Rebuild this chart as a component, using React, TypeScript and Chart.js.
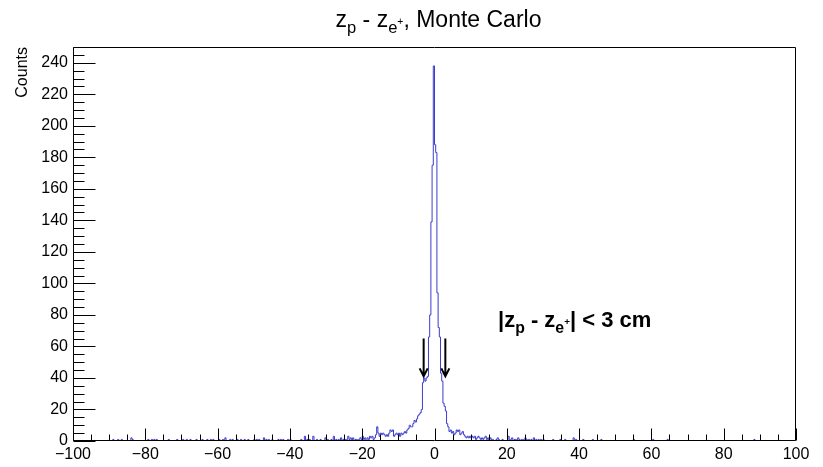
import React, { useEffect, useRef } from 'react';
import { Chart, registerables } from 'chart.js';

Chart.register(...registerables);

const FONT = '"Liberation Sans", Arial, Helvetica, sans-serif';

// ---------- data ----------
const X_MIN = -100;
const X_MAX = 100;
const BIN_WIDTH = 1 / 3; // 600 bins over [-100, 100]
const Y_MIN = 0;
const Y_MAX = 250;

const xTickValues = [-100, -80, -60, -40, -20, 0, 20, 40, 60, 80, 100];
const yTickValues = [0, 20, 40, 60, 80, 100, 120, 140, 160, 180, 200, 220, 240];
const xMinorStep = 5;
const yMinorStep = 5;

// bins from -100 to -20 cm
const countsLeftTail = [
  0,0,0,0,0,0,0,0,0,0, 0,0,0,0,0,0,0,0,0,0, 0,0,0,0,0,0,0,0,0,0,
  0,0,0,1,0,0,0,1,0,0, 1,0,0,0,0,0,0,0,2,1, 0,0,0,0,0,0,0,0,0,0,
  0,0,1,0,0,1,0,1,0,1, 0,0,0,0,0,0,0,0,0,1, 0,0,0,0,0,0,1,0,0,0,
  0,1,0,0,1,0,0,1,0,0, 0,0,1,0,0,0,0,1,0,0, 0,1,0,0,1,0,1,0,0,0,
  0,1,0,0,1,0,2,0,0,0, 1,0,1,0,0,0,1,0,0,1, 0,0,1,0,0,1,0,0,0,0,
  1,0,1,0,1,0,0,0,2,0, 1,0,1,0,0,1,0,0,0,0, 1,0,1,0,1,0,0,0,1,0,
  1,0,0,0,0,0,0,0,0,1, 0,0,3,0,1,0,1,0,0,3, 0,0,1,0,0,1,0,0,0,2,
  0,1,0,0,1,0,3,0,1,0, 1,0,2,0,1,0,1,1,3,1, 2,0,2,0,1,1,0,1,2,1,
];

// bins from -20 to +20 cm
const countsCore = [
  3,1,2,0,2,1,3,2,3,1, 2,4,9,5,3,5,4,5,4,3, 4,3,5,7,6,7,3,4,5,4,
  5,3,5,4,5,6,5,7,8,10, 9,9,11,13,12,14,16,17,18,20, 37,40,38,40,41,66,80,139,175,238,
  188,183,94,72,66,43,38,24,22,19, 11,9,6,7,5,6,4,5,7,6, 7,4,5,6,4,3,2,3,2,3,
  2,3,2,3,1,2,3,2,1,2, 1,2,3,1,2,0,2,1,1,0, 0,1,2,1,0,0,1,0,0,0,
];

// bins from +20 to +100 cm
const countsRightTail = [
  0,3,1,1,2,0,1,1,0,2, 1,0,1,1,0,2,1,0,1,0, 1,0,2,0,1,0,1,0,1,0,
  1,0,0,0,0,0,0,0,1,0, 0,0,0,0,1,0,0,0,1,0, 0,0,0,0,0,2,0,1,0,0,
  0,0,0,1,0,0,0,0,0,0, 0,1,0,0,0,0,0,0,1,0, 0,0,0,0,0,0,0,0,0,0,
  0,0,0,0,0,0,0,0,0,0, 0,0,0,0,0,1,0,0,0,0, 0,0,0,0,0,0,0,0,0,0,
  0,1,0,0,0,0,0,0,0,0, 0,0,0,1,0,0,0,0,0,0, 0,0,0,0,0,0,0,0,0,0,
  0,0,0,0,0,0,0,0,0,0, 0,0,0,0,0,0,0,0,0,0, 0,0,0,0,0,0,0,0,0,0,
  0,0,0,0,0,0,0,0,0,0, 0,0,0,0,0,0,0,0,0,0, 0,0,0,0,0,1,0,0,0,0,
  0,0,0,0,0,0,0,0,0,0, 0,0,0,0,0,0,0,0,0,0, 0,0,0,0,0,0,0,0,0,0,
];

const yAxisTitle = 'Counts';
// rich text: [text, kind]  kind: n = normal, s = subscript, u = superscript on subscript
const titleParts: [string, string][] = [
  ['z', 'n'], ['p', 's'], [' - z', 'n'], ['e', 's'], ['+', 'u'], [', Monte Carlo', 'n'],
];
const cutParts: [string, string][] = [
  ['|z', 'n'], ['p', 's'], [' - z', 'n'], ['e', 's'], ['+', 'u'], ['| < 3 cm', 'n'],
];
const cutArrowX = [-3, 3];
const cutArrowFrom = 65;
const cutArrowTo = 41;

// ---------- helpers ----------
const fmtX = (v: number) => (v < 0 ? '\u2212' + Math.abs(v) : String(v));

function drawRich(
  ctx: CanvasRenderingContext2D,
  parts: [string, string][],
  x: number,
  y: number,
  size: number,
  weight: string,
  align: 'center' | 'left'
) {
  const spec = (kind: string) => {
    if (kind === 's') return { sz: size * 0.72, dy: size * 0.28 };
    if (kind === 'u') return { sz: size * 0.45, dy: -size * 0.1 };
    return { sz: size, dy: 0 };
  };
  let total = 0;
  const widths = parts.map(([t, k]) => {
    const { sz } = spec(k);
    ctx.font = `${weight} ${sz}px ${FONT}`;
    const w = ctx.measureText(t).width;
    total += w;
    return w;
  });
  let cx = align === 'center' ? x - total / 2 : x;
  ctx.textAlign = 'left';
  ctx.textBaseline = 'alphabetic';
  parts.forEach(([t, k], i) => {
    const { sz, dy } = spec(k);
    ctx.font = `${weight} ${sz}px ${FONT}`;
    ctx.fillText(t, cx, y + dy);
    cx += widths[i];
  });
}

const rootDecor = {
  id: 'rootDecor',
  afterDatasetsDraw(chart: any) {
    const ctx: CanvasRenderingContext2D = chart.ctx;
    const xs = chart.scales.x;
    const ys = chart.scales.y;
    const { left, right, top, bottom } = chart.chartArea;
    ctx.save();
    ctx.strokeStyle = '#000';
    ctx.lineWidth = 1;
    const L = Math.round(left) + 0.5;
    const R = Math.round(right) - 0.5;
    const T = Math.round(top) + 0.5;
    const B = Math.round(bottom) - 0.5;
    ctx.beginPath();
    ctx.rect(L, T, R - L, B - T);
    ctx.stroke();

    ctx.beginPath();
    for (let v = X_MIN; v <= X_MAX + 1e-9; v += xMinorStep) {
      const px = Math.round(xs.getPixelForValue(v)) + 0.5;
      const len = v % 20 === 0 ? 12 : 6;
      ctx.moveTo(px, B);
      ctx.lineTo(px, B - len);
    }
    for (let v = Y_MIN; v <= Y_MAX + 1e-9; v += yMinorStep) {
      const py = Math.round(ys.getPixelForValue(v)) + 0.5;
      const len = v % 20 === 0 ? 22 : 11;
      ctx.moveTo(L, py);
      ctx.lineTo(L + len, py);
    }
    ctx.stroke();

    // cut arrows
    ctx.lineWidth = 2;
    ctx.strokeStyle = '#000';
    cutArrowX.forEach((xv) => {
      const px = xs.getPixelForValue(xv);
      const y0 = ys.getPixelForValue(cutArrowFrom);
      const y1 = ys.getPixelForValue(cutArrowTo);
      ctx.beginPath();
      ctx.moveTo(px, y0);
      ctx.lineTo(px, y1);
      ctx.moveTo(px - 4, y1 - 8);
      ctx.lineTo(px, y1);
      ctx.lineTo(px + 4, y1 - 8);
      ctx.stroke();
    });

    ctx.fillStyle = '#000';
    // title
    drawRich(ctx, titleParts, (left + right) / 2 + 4, 27, 23, 'normal', 'center');
    // cut label
    drawRich(ctx, cutParts, 498, 327, 22, 'bold', 'left');
    // y axis title
    ctx.save();
    ctx.translate(23, top);
    ctx.rotate(-Math.PI / 2);
    ctx.font = `normal 16px ${FONT}`;
    ctx.textAlign = 'right';
    ctx.textBaseline = 'middle';
    ctx.fillText(yAxisTitle, 0, 0);
    ctx.restore();
    ctx.restore();
  },
};

export default function App() {
  const ref = useRef<HTMLCanvasElement | null>(null);
  useEffect(() => {
    const canvas = ref.current;
    if (!canvas) return;
    const counts = [...countsLeftTail, ...countsCore, ...countsRightTail];
    const points = counts.map((c, i) => ({ x: X_MIN + i * BIN_WIDTH, y: c }));
    points.push({ x: X_MAX, y: counts[counts.length - 1] });

    const chart = new Chart(canvas, {
      type: 'line',
      data: {
        datasets: [
          {
            data: points,
            borderColor: 'rgb(60,60,205)',
            borderWidth: 1,
            pointRadius: 0,
            stepped: 'before',
            fill: false,
            tension: 0,
          } as any,
        ],
      },
      options: {
        responsive: false,
        animation: false,
        devicePixelRatio: 1,
        layout: { padding: { top: 47, right: 27, left: 0, bottom: 0 } },
        plugins: {
          legend: { display: false },
          tooltip: { enabled: false },
          title: { display: false },
        },
        scales: {
          x: {
            type: 'linear',
            min: X_MIN,
            max: X_MAX,
            grid: { display: false, drawTicks: false },
            border: { display: false },
            ticks: {
              font: { family: FONT, size: 16 },
              color: '#000',
              padding: 4,
              maxRotation: 0,
              autoSkip: false,
              callback: (v: any) => fmtX(Number(v)),
            },
            afterBuildTicks: (s: any) => {
              s.ticks = xTickValues.map((v) => ({ value: v }));
            },
            afterFit: (s: any) => {
              s.height = 26;
            },
          },
          y: {
            type: 'linear',
            min: Y_MIN,
            max: Y_MAX,
            grid: { display: false, drawTicks: false },
            border: { display: false },
            ticks: {
              font: { family: FONT, size: 16 },
              color: '#000',
              padding: 5,
              autoSkip: false,
              callback: (v: any) => String(v),
            },
            afterBuildTicks: (s: any) => {
              s.ticks = yTickValues.map((v) => ({ value: v }));
            },
            afterFit: (s: any) => {
              s.width = 73;
            },
          },
        },
      } as any,
      plugins: [rootDecor],
    });
    return () => chart.destroy();
  }, []);

  return (
    <div style={{ position: 'absolute', left: 0, top: 0, width: 823, height: 467, background: '#fff' }}>
      <canvas ref={ref} width={823} height={467} style={{ display: 'block', width: 823, height: 467 }} />
    </div>
  );
}
